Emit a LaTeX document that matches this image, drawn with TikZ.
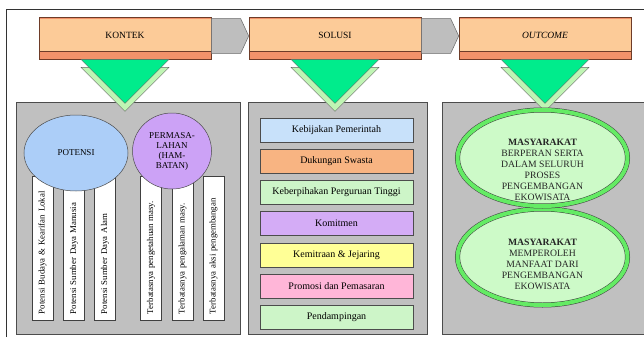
\documentclass[tikz,border=0pt]{standalone}
\usepackage{fontspec}
\setmainfont{Liberation Serif}
\usetikzlibrary{shapes.geometric}
\usetikzlibrary{positioning}
\tikzset{>=latex}
\definecolor{headfill}{RGB}{252,203,152}
\definecolor{headstrip}{RGB}{242,146,106}
\definecolor{headline}{RGB}{110,60,40}
\definecolor{linkgray}{RGB}{190,190,190}
\definecolor{panelgray}{RGB}{192,192,192}
\definecolor{trifront}{RGB}{0,236,140}
\definecolor{triback}{RGB}{192,245,180}
\definecolor{potblue}{RGB}{172,206,248}
\definecolor{permlila}{RGB}{204,162,246}
\definecolor{solblue}{RGB}{200,225,250}
\definecolor{solorange}{RGB}{248,180,130}
\definecolor{solgreen}{RGB}{205,245,200}
\definecolor{sollila}{RGB}{212,172,246}
\definecolor{solyellow}{RGB}{255,255,150}
\definecolor{solpink}{RGB}{255,182,216}
\definecolor{bandgreen}{RGB}{100,235,100}
\definecolor{outfill}{RGB}{205,250,200}

\begin{document}
\begin{tikzpicture}[x=1pt, y=-1pt, node distance=210pt, on grid,
	headbox/.style={rectangle, draw=headline, line width=0.6pt, fill=headfill, minimum width=172pt, minimum height=42pt, inner sep=0pt, text height=7pt, text depth=6pt, font=\fontsize{9.5}{11}\selectfont,
		path picture={\fill[headstrip] ([yshift=8pt]path picture bounding box.south west) rectangle (path picture bounding box.south east);
			\fill[headstrip] (path picture bounding box.north west) rectangle ([yshift=-2pt]path picture bounding box.north east);
			\draw[headline, line width=0.6pt] ([yshift=8pt]path picture bounding box.south west) -- ([yshift=8pt]path picture bounding box.south east);}},
	linkarrow/.style={fill=linkgray, draw=black!60, line width=0.5pt},
	panel/.style={rectangle, draw=black!70, line width=0.7pt, fill=panelgray, minimum height=232pt},
	triback/.style={fill=triback, draw=black!60, line width=0.4pt},
	trifront/.style={fill=trifront, draw=black!60, line width=0.4pt},
	bar/.style={rectangle, draw=black!75, line width=0.5pt, fill=white, rotate=90, minimum width=144pt, minimum height=21pt, text width=140pt, inner xsep=2pt, align=left, font=\fontsize{8.8}{10}\selectfont},
	bubble/.style={ellipse, draw=black!70, line width=0.5pt, inner sep=0pt, align=center, font=\fontsize{9}{10}\selectfont},
	solbox/.style={rectangle, draw=black!70, line width=0.5pt, minimum width=153pt, minimum height=24pt, inner sep=0pt, font=\fontsize{10}{11}\selectfont},
	outcome/.style={ellipse, fill=outfill, draw=black!75, line width=0.5pt, double=bandgreen, double distance=4pt, minimum width=170pt, minimum height=96pt},
	outtext/.style={align=center, font=\fontsize{9.7}{11}\selectfont, text=black!85}]
	\useasboundingbox (0,0) rectangle (644,337);
	\draw[black!80, line width=0.6pt] (6,337) -- (6,9) -- (646,9);

	% header row
	\node[headbox] (kontek) at (125,38) {KONTEK};
	\node[headbox] (solusi) [right=of kontek] {SOLUSI};
	\node[headbox] (outcome) [right=of solusi] {\textit{OUTCOME}};
	\foreach \a/\b in {kontek/solusi, solusi/outcome}
		\filldraw[linkarrow] ([yshift=-2pt]\a.north east) -- ([xshift=-8pt,yshift=-2pt]\b.north west) -- ([yshift=2pt]\b.west) -- ([xshift=-8pt,yshift=6pt]\b.south west) -- ([yshift=6pt]\a.south east) -- cycle;

	% panels
	\node[panel, minimum width=224pt] (pkontek) at (128,218) {};
	\node[panel, minimum width=179pt] (psolusi) at (337.5,218) {};
	\node[panel, minimum width=205pt] (poutcome) at (544.5,218) {};

	\foreach \h in {kontek,solusi,outcome}{
		\filldraw[triback] ([xshift=-44pt,yshift=-8pt]\h.south) -- ([xshift=44pt,yshift=-8pt]\h.south) -- ([yshift=-52pt]\h.south) -- cycle;
		\filldraw[trifront] ([xshift=-44pt]\h.south) -- ([xshift=44pt]\h.south) -- ([yshift=-44pt]\h.south) -- cycle;
	}

	% kontek
	\foreach \x/\t [count=\i] in {42.5/{\hspace*{4pt}Potensi Budaya \& Kearifan Lokal}, 74/{\hspace*{4pt}Potensi Sumber Daya Manusia}, 105/{\hspace*{4pt}Potensi Sumber Daya Alam}, 151/{\hspace*{4pt}Terbatasnya pengetahuan masy.}, 182.5/{\hspace*{4pt}Terbatasnya pengalaman masy.}, 213.5/{\hspace*{4pt}Terbatasnya aksi pengembangan}}
		\node[bar] (b\i) at (\x,248) {\t};
	\node[bubble, fill=potblue, minimum width=104pt, minimum height=76pt] (potensi) at (76,153) {POTENSI};
	\node[bubble, fill=permlila, minimum width=79pt, minimum height=76pt] (hambatan) at (172,151) {PERMASA-\\LAHAN\\(HAM-\\BATAN)};

	% solusi
	\begin{scope}[node distance=31.2pt]
		\node[solbox, fill=solblue] (s1) at (336.5,130) {Kebijakan Pemerintah};
		\node[solbox, fill=solorange] (s2) [below=of s1] {Dukungan Swasta};
		\node[solbox, fill=solgreen] (s3) [below=of s2] {Keberpihakan Perguruan Tinggi};
		\node[solbox, fill=sollila] (s4) [below=of s3] {Komitmen};
		\node[solbox, fill=solyellow] (s5) [below=of s4] {Kemitraan \& Jejaring};
		\node[solbox, fill=solpink] (s6) [below=of s5] {Promosi dan Pemasaran};
		\node[solbox, fill=solgreen] (s7) [below=of s6] {Pendampingan};
	\end{scope}

	% outcome
	\node[outcome] (out2) at (542.5,257) {};
	\node[outcome] (out1) at (542.5,158) {};
	\node[outtext] (out1txt) at ([yshift=-12pt]out1.center) {\textbf{MASYARAKAT}\\BERPERAN SERTA\\DALAM SELURUH\\PROSES\\PENGEMBANGAN\\EKOWISATA};
	\node[outtext] (out2txt) at ([yshift=-7pt]out2.center) {\textbf{MASYARAKAT}\\MEMPEROLEH\\MANFAAT DARI\\PENGEMBANGAN\\EKOWISATA};
\end{tikzpicture}
\end{document}
